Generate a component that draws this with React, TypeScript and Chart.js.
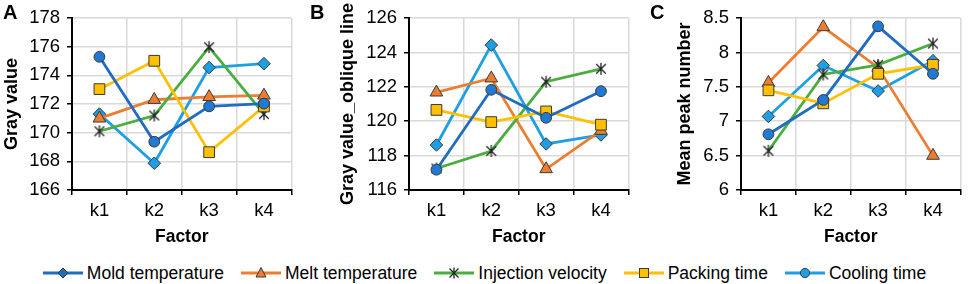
import React, { useEffect, useRef } from "react";
import { Chart, registerables } from "chart.js";

Chart.register(...registerables);

// ---------- data ----------
const categories = ["k1", "k2", "k3", "k4"];
const seriesNames = [
  "Mold temperature",
  "Melt temperature",
  "Injection velocity",
  "Packing time",
  "Cooling time",
];

// Panel A: Gray value
const grayMold = [171.3, 167.87, 174.55, 174.82];
const grayMelt = [171.0, 172.3, 172.5, 172.6];
const grayInjection = [170.1, 171.2, 175.97, 171.3];
const grayPacking = [173.04, 175.02, 168.64, 171.83];
const grayCooling = [175.3, 169.37, 171.84, 172.03];
const grayTicks = [166, 168, 170, 172, 174, 176, 178];

// Panel B: Gray value_oblique line
const obliqueMold = [118.62, 124.43, 118.68, 119.2];
const obliqueMelt = [121.68, 122.5, 117.22, 119.45];
const obliqueInjection = [117.25, 118.27, 122.3, 123.05];
const obliquePacking = [120.66, 119.95, 120.57, 119.8];
const obliqueCooling = [117.18, 121.83, 120.2, 121.75];
const obliqueTicks = [116, 118, 120, 122, 124, 126];

// Panel C: Mean peak number
const peakMold = [7.07, 7.81, 7.44, 7.88];
const peakMelt = [7.56, 8.37, 7.78, 6.5];
const peakInjection = [6.57, 7.68, 7.82, 8.13];
const peakPacking = [7.45, 7.26, 7.69, 7.82];
const peakCooling = [6.81, 7.31, 8.38, 7.69];
const peakTicks = [6, 6.5, 7, 7.5, 8, 8.5];

// ---------- styles ----------
const FONT = "'Liberation Sans', Arial, Helvetica, sans-serif";
const GRID = "#D9D9D9";
const LIGHT_BLUE = "#1E9FE3";
const DARK_BLUE = "#1F6CC0";
const CIRCLE_FILL = "#2179D3";
const ORANGE = "#ED7D31";
const GREEN = "#4AAE3E";
const YELLOW = "#FFC000";
const EDGE = "#3A3A3A";

function makeAsterisk(size: number): HTMLCanvasElement {
  const c = document.createElement("canvas");
  c.width = size;
  c.height = size;
  const ctx = c.getContext("2d")!;
  ctx.strokeStyle = "#222";
  ctx.lineWidth = 1.3;
  const m = size / 2;
  const r = size / 2 - 1;
  ctx.beginPath();
  ctx.moveTo(m - r * 0.8, m - r * 0.8);
  ctx.lineTo(m + r * 0.8, m + r * 0.8);
  ctx.moveTo(m + r * 0.8, m - r * 0.8);
  ctx.lineTo(m - r * 0.8, m + r * 0.8);
  ctx.moveTo(m, m - r);
  ctx.lineTo(m, m + r);
  ctx.stroke();
  return c;
}

type PanelProps = {
  left: number;
  width: number;
  axisWidth: number;
  rightPad: number;
  title: string;
  series: number[][];
  ticks: number[];
};

const CANVAS_H = 252;
const PLOT_TOP = 13;
const PLOT_BOTTOM = 190;

function Panel({ left, width, axisWidth, rightPad, title, series, ticks }: PanelProps) {
  const ref = useRef<HTMLCanvasElement>(null);
  useEffect(() => {
    const star = makeAsterisk(14);
    const styles = [
      { line: LIGHT_BLUE, fill: LIGHT_BLUE, point: "rectRot", r: 6.3 },
      { line: ORANGE, fill: ORANGE, point: "triangle", r: 7.3 },
      { line: GREEN, fill: GREEN, point: star, r: 7 },
      { line: YELLOW, fill: YELLOW, point: "rect", r: 7.6 },
      { line: DARK_BLUE, fill: CIRCLE_FILL, point: "circle", r: 5.4 },
    ];
    const chart = new Chart(ref.current!, {
      type: "line",
      data: {
        labels: categories,
        datasets: series.map((vals, i) => ({
          label: seriesNames[i],
          data: vals,
          borderColor: styles[i].line,
          backgroundColor: styles[i].fill,
          borderWidth: 2.8,
          tension: 0,
          pointStyle: styles[i].point as any,
          pointRadius: styles[i].r,
          pointBackgroundColor: styles[i].fill,
          pointBorderColor: EDGE,
          pointBorderWidth: 1,
          order: series.length - i,
        })),
      },
      options: {
        animation: false,
        responsive: false,
        devicePixelRatio: 1,
        layout: { padding: { top: PLOT_TOP, right: rightPad, bottom: 0, left: 0 } },
        plugins: { legend: { display: false }, tooltip: { enabled: false } },
        scales: {
          x: {
            offset: true,
            grid: {
              offset: true,
              color: GRID,
              lineWidth: 1.5,
              drawTicks: true,
              tickLength: 5,
              tickColor: "#000",
              tickWidth: 1.5,
            },
            border: { color: "#000", width: 2 },
            ticks: { font: { size: 18.5, family: FONT }, color: "#000", padding: 5 },
            title: {
              display: true,
              text: "Factor",
              color: "#000",
              font: { size: 17.5, weight: "bold", family: FONT },
              padding: { top: 0, bottom: 4.5 },
            },
            afterFit: (s: any) => {
              s.height = CANVAS_H - PLOT_BOTTOM;
            },
          },
          y: {
            min: ticks[0],
            max: ticks[ticks.length - 1],
            grid: {
              color: GRID,
              lineWidth: 1.5,
              drawTicks: true,
              tickLength: 5,
              tickColor: "#000",
              tickWidth: 1.5,
            },
            border: { color: "#000", width: 2 },
            ticks: {
              stepSize: ticks[1] - ticks[0],
              font: { size: 18.5, family: FONT },
              color: "#000",
              padding: 7,
              callback: (v: any) => String(v),
            },
            title: {
              display: true,
              text: title,
              color: "#000",
              font: { size: 18, weight: "bold", family: FONT },
              padding: { top: 1.7, bottom: 0 },
            },
            afterFit: (s: any) => {
              s.width = axisWidth;
            },
          },
        },
      },
    } as any);
    return () => chart.destroy();
  }, []);
  return (
    <canvas
      ref={ref}
      width={width}
      height={CANVAS_H}
      style={{ position: "absolute", left, top: 0, width, height: CANVAS_H }}
    />
  );
}

function LegendIcon({ idx }: { idx: number }) {
  const lineColors = [DARK_BLUE, ORANGE, GREEN, YELLOW, LIGHT_BLUE];
  const c = lineColors[idx];
  let marker: React.ReactNode = null;
  if (idx === 0) marker = <polygon points="20,3 25,8 20,13 15,8" fill={DARK_BLUE} stroke={EDGE} strokeWidth={1} />;
  if (idx === 1) marker = <polygon points="20,2.5 25,12 15,12" fill={ORANGE} stroke={EDGE} strokeWidth={1} />;
  if (idx === 2)
    marker = (
      <g stroke="#222" strokeWidth={1.3}>
        <line x1={15.5} y1={3.5} x2={24.5} y2={12.5} />
        <line x1={24.5} y1={3.5} x2={15.5} y2={12.5} />
        <line x1={20} y1={2.5} x2={20} y2={13.5} />
      </g>
    );
  if (idx === 3) marker = <rect x={15.5} y={3.5} width={9} height={9} fill={YELLOW} stroke={EDGE} strokeWidth={1} />;
  if (idx === 4) marker = <circle cx={20} cy={8} r={4.6} fill={LIGHT_BLUE} stroke={EDGE} strokeWidth={1} />;
  return (
    <svg width={40} height={16} style={{ display: "block" }}>
      <line x1={0} y1={8} x2={40} y2={8} stroke={c} strokeWidth={3} />
      {marker}
    </svg>
  );
}

const letterStyle: React.CSSProperties = {
  position: "absolute",
  top: 2.4,
  fontSize: 20,
  lineHeight: "20px",
  fontWeight: "bold",
  fontFamily: FONT,
  color: "#000",
};

export default function App() {
  return (
    <div
      style={{
        position: "absolute",
        left: 0,
        top: 0,
        width: 969,
        height: 284,
        background: "#fff",
        overflow: "hidden",
        fontFamily: FONT,
      }}
    >
      <Panel
        left={0}
        width={300}
        axisWidth={72}
        rightPad={8}
        title="Gray value"
        series={[grayMold, grayMelt, grayInjection, grayPacking, grayCooling]}
        ticks={grayTicks}
      />
      <Panel
        left={336}
        width={301}
        axisWidth={73}
        rightPad={8}
        title="Gray value_oblique line"
        series={[obliqueMold, obliqueMelt, obliqueInjection, obliquePacking, obliqueCooling]}
        ticks={obliqueTicks}
      />
      <Panel
        left={673}
        width={296}
        axisWidth={68}
        rightPad={4}
        title="Mean peak number"
        series={[peakMold, peakMelt, peakInjection, peakPacking, peakCooling]}
        ticks={peakTicks}
      />
      <div style={{ ...letterStyle, left: 3 }}>A</div>
      <div style={{ ...letterStyle, left: 310 }}>B</div>
      <div style={{ ...letterStyle, left: 650 }}>C</div>
      <div
        style={{
          position: "absolute",
          left: 0,
          top: 263,
          width: 969,
          height: 20,
          display: "flex",
          justifyContent: "center",
          alignItems: "center",
          gap: 17,
        }}
      >
        {seriesNames.map((name, i) => (
          <div key={name} style={{ display: "flex", alignItems: "center" }}>
            <LegendIcon idx={i} />
            <span style={{ marginLeft: 4, fontSize: 17.5, lineHeight: "20px", color: "#000", whiteSpace: "nowrap" }}>
              {name}
            </span>
          </div>
        ))}
      </div>
    </div>
  );
}
